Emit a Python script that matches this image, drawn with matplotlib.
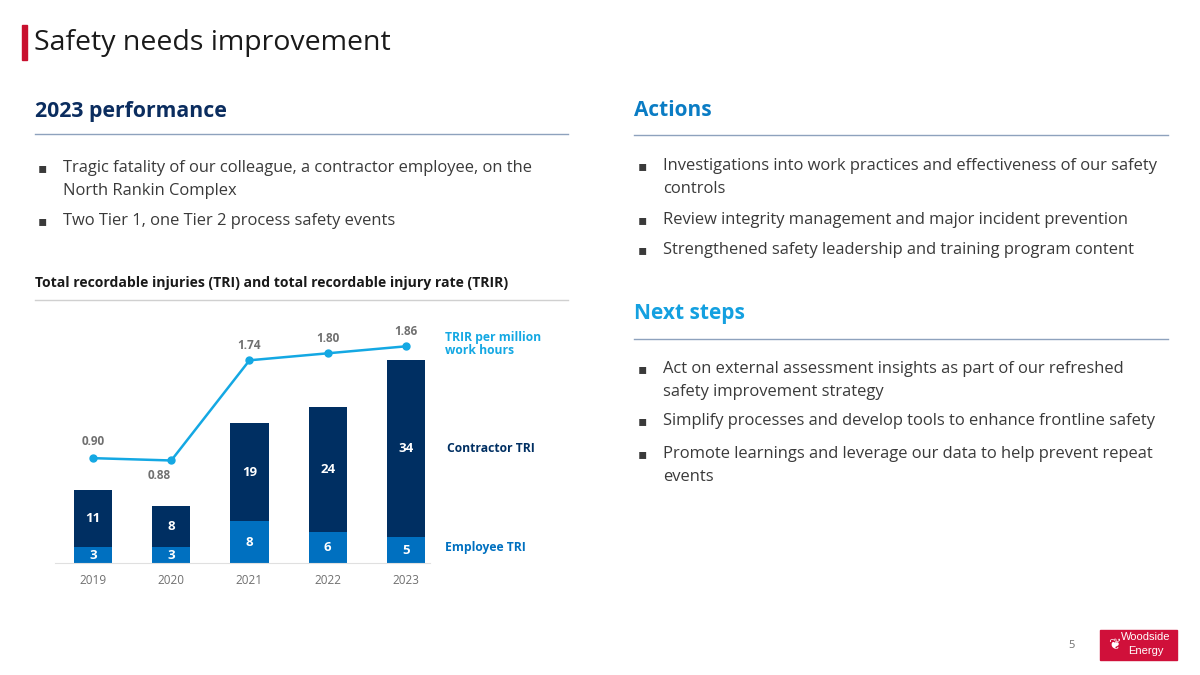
import matplotlib
matplotlib.use("Agg")
import matplotlib.pyplot as plt
from matplotlib.patches import Rectangle
import numpy as np

years = ["2019", "2020", "2021", "2022", "2023"]
employee_tri = [3, 3, 8, 6, 5]
contractor_tri = [11, 8, 19, 24, 34]
trir = [0.90, 0.88, 1.74, 1.80, 1.86]
trir_labels = ["0.90", "0.88", "1.74", "1.80", "1.86"]

NAVY = "#002f62"
EMP = "#0070c0"
LINE = "#14a8e3"
HEAD_BLUE = "#0a7cc4"
NEXT_BLUE = "#14a0e0"
TXT = "#3a3a3a"
GRAY = "#707070"

plt.rcParams['font.family'] = ['Open Sans', 'DejaVu Sans']

W, H = 1200, 675
fig = plt.figure(figsize=(12, 6.75), dpi=100)
fig.patch.set_facecolor("white")

def fx(x): return x / W
def fy(y): return 1 - y / H

def ftext(x, y, s, **kw):
    fig.text(fx(x), fy(y), s, **kw)

def hline(x0, x1, y, color, lw=1.0):
    fig.add_artist(plt.Line2D([fx(x0), fx(x1)], [fy(y), fy(y)], color=color, lw=lw,
                              transform=fig.transFigure))

# Title with red bar
fig.add_artist(Rectangle((fx(22), fy(60)), 5 / W, 35 / H, color="#c8102e", transform=fig.transFigure))
ftext(34, 43, "Safety needs improvement", fontsize=20.5, color="#1a1a1a", va="center", ha="left")

# Section headings
ftext(35, 112, "2023 performance", fontsize=15.3, fontweight="bold", color="#0b2d5f", va="center")
hline(35, 568, 134, "#8ea2bd", 1.0)
ftext(634, 110, "Actions", fontsize=15, fontweight="bold", color=HEAD_BLUE, va="center")
hline(634, 1168, 135, "#8ea2bd", 1.0)
ftext(634, 313, "Next steps", fontsize=15, fontweight="bold", color=NEXT_BLUE, va="center")
hline(634, 1168, 339, "#8ea2bd", 1.0)

BSZ = 11.9
def bullet(x, y, lines, gap=23):
    ftext(x, y, "\u25aa", fontsize=10, color=TXT, va="center", family=['DejaVu Sans'])
    for i, ln in enumerate(lines):
        ftext(x + 25, y + i * gap, ln, fontsize=BSZ, color=TXT, va="center")

bullet(38, 168, ["Tragic fatality of our colleague, a contractor employee, on the",
                 "North Rankin Complex"])
bullet(38, 221, ["Two Tier 1, one Tier 2 process safety events"])

bullet(638, 166, ["Investigations into work practices and effectiveness of our safety",
                  "controls"])
bullet(638, 220, ["Review integrity management and major incident prevention"])
bullet(638, 250, ["Strengthened safety leadership and training program content"])

bullet(638, 369, ["Act on external assessment insights as part of our refreshed",
                  "safety improvement strategy"])
bullet(638, 421, ["Simplify processes and develop tools to enhance frontline safety"])
bullet(638, 454, ["Promote learnings and leverage our data to help prevent repeat",
                  "events"])

# Chart title
ftext(35, 283, "Total recordable injuries (TRI) and total recordable injury rate (TRIR)",
      fontsize=10.1, fontweight="bold", color="#1a1a1a", va="center")
hline(35, 568, 300, "#d0d0d0", 1.0)

# Chart axes
ax_l, ax_r, ax_b, ax_t = 55, 430, 563, 320
ax = fig.add_axes([fx(ax_l), fy(ax_b), (ax_r - ax_l) / W, (ax_b - ax_t) / H])
x = np.arange(len(years))
spacing = 78.25
x0px = 93
ax.set_xlim((ax_l - x0px) / spacing, (ax_r - x0px) / spacing)
pxu = 5.2
ax.set_ylim(0, (ax_b - ax_t) / pxu)
bw = 0.49
ax.bar(x, employee_tri, width=bw, color=EMP, zorder=2)
ax.bar(x, contractor_tri, width=bw, bottom=employee_tri, color=NAVY, zorder=2)
for i in range(len(years)):
    ax.text(x[i], employee_tri[i] / 2, str(employee_tri[i]), ha="center", va="center",
            color="white", fontsize=9.5, fontweight="bold")
    ax.text(x[i], employee_tri[i] + contractor_tri[i] / 2, str(contractor_tri[i]),
            ha="center", va="center", color="white", fontsize=9.5, fontweight="bold")
for s in ["top", "right", "left"]:
    ax.spines[s].set_visible(False)
ax.spines["bottom"].set_color("#e0e0e0")
ax.set_yticks([])
ax.set_xticks(x)
ax.set_xticklabels(years, color=GRAY, fontsize=8.5)
ax.tick_params(axis="x", length=0, pad=8)
ax.set_facecolor("none")

ax2 = ax.twinx()
ax2.set_ylim(0, (ax_b - ax_t) / 116.5)
ax2.plot(x, trir, color=LINE, lw=1.8, marker="o", ms=5, zorder=3)
ax2.set_yticks([])
for s in ax2.spines.values():
    s.set_visible(False)
offsets = [(0, 12), (-9, -11), (0, 11), (0, 11), (0, 11)]
for i in range(len(years)):
    dx, dy = offsets[i]
    ax2.annotate(trir_labels[i], (x[i], trir[i]), xytext=(dx, dy), textcoords="offset points",
                 ha="center", va="center", color=GRAY, fontsize=8.5, fontweight="bold")

# Series labels
lbl = dict(fontsize=8.7, fontweight="bold", va="center")
ftext(445, 338, "TRIR per million", color=LINE, **lbl)
ftext(445, 351, "work hours", color=LINE, **lbl)
ftext(447, 448, "Contractor TRI", color=NAVY, **lbl)
ftext(445, 547, "Employee TRI", color=EMP, **lbl)

# Page number & logo
ftext(1072, 645, "5", fontsize=8, color=GRAY, va="center", ha="center")
fig.add_artist(Rectangle((fx(1100), fy(660)), 77 / W, 30 / H, color="#d0103a", transform=fig.transFigure))
ftext(1146, 637, "Woodside", fontsize=8, color="white", va="center", ha="center", family=['Liberation Sans'])
ftext(1146, 651, "Energy", fontsize=8, color="white", va="center", ha="center", family=['Liberation Sans'])
ftext(1114, 645, "\u2766", fontsize=11, color="white", va="center", ha="center", family=['DejaVu Sans'])

fig.savefig("out.png", dpi=100, facecolor="white")
